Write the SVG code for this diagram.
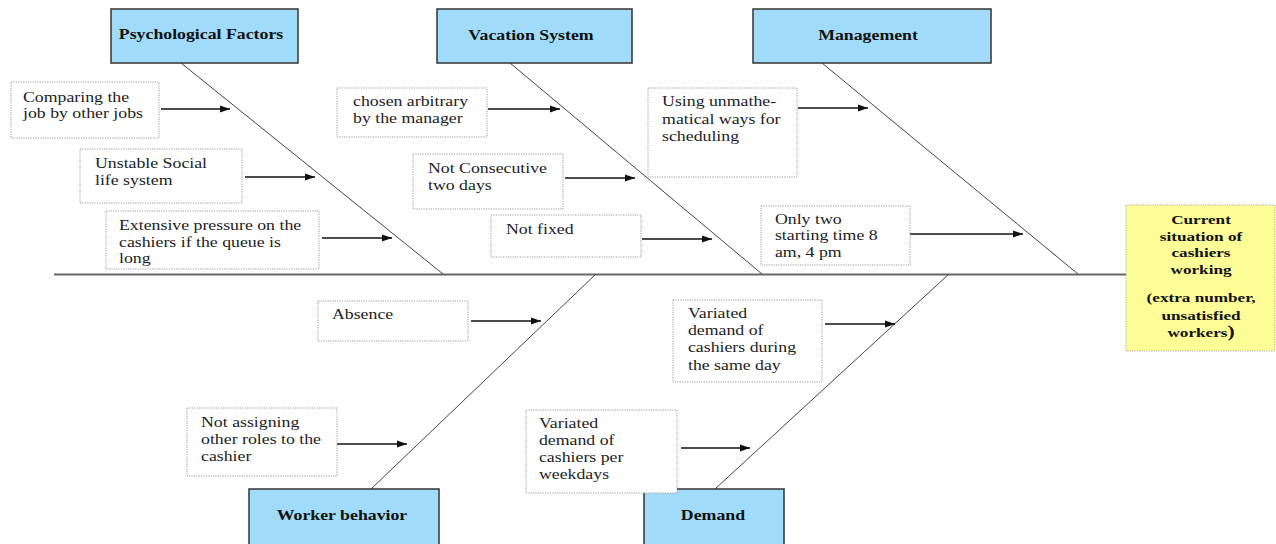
<svg xmlns="http://www.w3.org/2000/svg" width="1276" height="544" viewBox="0 0 1276 544">
<style>
.cat{fill:#a0dcf9;stroke:#333;stroke-width:1.5}
.cause{fill:#fff;stroke:#9a9a9a;stroke-width:1;stroke-dasharray:1.2 1.2}
.eff{fill:#fdfd98;stroke:#aaa;stroke-width:1;stroke-dasharray:1.2 1.2}
.bone{stroke:#444;stroke-width:1;fill:none}
.spine{stroke:#666;stroke-width:2;fill:none}
.arr{stroke:#111;stroke-width:1.6;fill:none;marker-end:url(#ah)}
.t{font-family:"Liberation Serif","Times New Roman",serif;font-size:14px;fill:#222}
.tb{font-family:"Liberation Serif","Times New Roman",serif;font-size:14px;font-weight:bold;fill:#111;text-anchor:middle}
.ty{font-family:"Liberation Serif","Times New Roman",serif;font-size:13.5px;font-weight:bold;fill:#111;text-anchor:middle}
</style>
<defs>
<marker id="ah" markerUnits="userSpaceOnUse" markerWidth="11" markerHeight="8" refX="10" refY="4" orient="auto">
<path d="M0,0.5 L10,4 L0,7.5 z" fill="#111"/>
</marker>
<clipPath id="clipC3"><rect x="106" y="211" width="213" height="55"/></clipPath>
<clipPath id="clipC8"><rect x="761" y="206" width="149" height="54"/></clipPath>
</defs>
<rect width="1276" height="544" fill="#fff"/>

<g id="connectors">
<line class="spine" x1="54" y1="274.5" x2="1126" y2="274.5"/>
<line class="bone" x1="181" y1="63" x2="443" y2="274"/>
<line class="bone" x1="510" y1="63" x2="762" y2="274"/>
<line class="bone" x1="822" y1="63" x2="1078" y2="274"/>
<line class="bone" x1="371" y1="489" x2="596" y2="274"/>
<line class="bone" x1="715" y1="489" x2="949" y2="274"/>
<line class="arr" x1="161" y1="109" x2="230" y2="109"/>
<line class="arr" x1="245" y1="177" x2="315" y2="177"/>
<line class="arr" x1="322" y1="238" x2="392" y2="238"/>
<line class="arr" x1="488" y1="109" x2="560" y2="109"/>
<line class="arr" x1="565" y1="178" x2="635" y2="178"/>
<line class="arr" x1="642" y1="239" x2="712" y2="239"/>
<line class="arr" x1="798" y1="108" x2="868" y2="108"/>
<line class="arr" x1="909" y1="234" x2="1023" y2="234"/>
<line class="arr" x1="471" y1="321" x2="541" y2="321"/>
<line class="arr" x1="337" y1="444" x2="407" y2="444"/>
<line class="arr" x1="825" y1="324" x2="895" y2="324"/>
<line class="arr" x1="681" y1="448" x2="750" y2="448"/>
</g>

<g id="cat-psychological">
<rect class="cat" x="111" y="9" width="187" height="54"/>
<g transform="scale(1.27 1)"><text class="tb" x="158.3" y="39">Psychological Factors</text></g>
</g>
<g id="cat-vacation">
<rect class="cat" x="437" y="9" width="195" height="54"/>
<g transform="scale(1.27 1)"><text class="tb" x="418.1" y="40">Vacation System</text></g>
</g>
<g id="cat-management">
<rect class="cat" x="753" y="9" width="238" height="54"/>
<g transform="scale(1.27 1)"><text class="tb" x="683.5" y="40">Management</text></g>
</g>
<g id="cat-worker">
<rect class="cat" x="249" y="489" width="190" height="60"/>
<g transform="scale(1.27 1)"><text class="tb" x="269.3" y="520">Worker behavior</text></g>
</g>
<g id="cat-demand">
<rect class="cat" x="644" y="489" width="140" height="60"/>
<g transform="scale(1.27 1)"><text class="tb" x="561.4" y="520">Demand</text></g>
</g>

<g id="cause-comparing">
<rect class="cause" x="11" y="82" width="148" height="56"/>
<g transform="scale(1.27 1)"><text class="t"><tspan x="18.1" y="102">Comparing the</tspan><tspan x="18.1" y="118.5">job by other jobs</tspan></text></g>
</g>
<g id="cause-unstable">
<rect class="cause" x="80" y="149" width="162" height="54"/>
<g transform="scale(1.27 1)"><text class="t"><tspan x="74.8" y="168.5">Unstable Social</tspan><tspan x="74.8" y="185.5">life system</tspan></text></g>
</g>
<g id="cause-extensive">
<rect class="cause" x="106" y="211" width="213" height="58"/>
<g clip-path="url(#clipC3)"><g transform="scale(1.27 1)"><text class="t"><tspan x="93.7" y="230.5">Extensive pressure on the</tspan><tspan x="93.7" y="247">cashiers if the queue is</tspan><tspan x="93.7" y="263.5">long</tspan></text></g></g>
</g>
<g id="cause-chosen">
<rect class="cause" x="337" y="88" width="150" height="49"/>
<g transform="scale(1.27 1)"><text class="t"><tspan x="278" y="106.5">chosen arbitrary</tspan><tspan x="278" y="123">by the manager</tspan></text></g>
</g>
<g id="cause-consecutive">
<rect class="cause" x="413" y="154" width="150" height="55"/>
<g transform="scale(1.27 1)"><text class="t"><tspan x="337" y="173.5">Not Consecutive</tspan><tspan x="337" y="190">two days</tspan></text></g>
</g>
<g id="cause-notfixed">
<rect class="cause" x="491" y="215" width="150" height="42"/>
<g transform="scale(1.27 1)"><text class="t" x="398.4" y="234">Not fixed</text></g>
</g>
<g id="cause-unmath">
<rect class="cause" x="648" y="88" width="149" height="89"/>
<g transform="scale(1.27 1)"><text class="t"><tspan x="521.3" y="106.5">Using unmathe-</tspan><tspan x="521.3" y="124">matical ways for</tspan><tspan x="521.3" y="141">scheduling</tspan></text></g>
</g>
<g id="cause-onlytwo">
<rect class="cause" x="761" y="206" width="149" height="59"/>
<g clip-path="url(#clipC8)"><g transform="scale(1.27 1)"><text class="t"><tspan x="610.2" y="224">Only two</tspan><tspan x="610.2" y="240.5">starting time 8</tspan><tspan x="610.2" y="257.5">am, 4 pm</tspan></text></g></g>
</g>
<g id="cause-absence">
<rect class="cause" x="318" y="301" width="150" height="40"/>
<g transform="scale(1.27 1)"><text class="t" x="261.4" y="319.5">Absence</text></g>
</g>
<g id="cause-notassigning">
<rect class="cause" x="187" y="408" width="150" height="68"/>
<g transform="scale(1.27 1)"><text class="t"><tspan x="158.3" y="427.5">Not assigning</tspan><tspan x="158.3" y="444">other roles to the</tspan><tspan x="158.3" y="461">cashier</tspan></text></g>
</g>
<g id="cause-sameday">
<rect class="cause" x="673" y="300" width="149" height="82"/>
<g transform="scale(1.27 1)"><text class="t"><tspan x="541.7" y="318.5">Variated</tspan><tspan x="541.7" y="335.5">demand of</tspan><tspan x="541.7" y="352.5">cashiers during</tspan><tspan x="541.7" y="370">the same day</tspan></text></g>
</g>
<g id="cause-weekdays">
<rect class="cause" x="526" y="410" width="151" height="83"/>
<g transform="scale(1.27 1)"><text class="t"><tspan x="424.4" y="428.5">Variated</tspan><tspan x="424.4" y="445.5">demand of</tspan><tspan x="424.4" y="462.5">cashiers per</tspan><tspan x="424.4" y="479.5">weekdays</tspan></text></g>
</g>

<g id="effect">
<rect class="eff" x="1126" y="205" width="149" height="146"/>
<g transform="scale(1.27 1)"><text class="ty"><tspan x="945.7" y="224">Current</tspan><tspan x="945.7" y="241">situation of</tspan><tspan x="945.7" y="257.5">cashiers</tspan><tspan x="945.7" y="274">working</tspan><tspan x="945.7" y="302">(extra number,</tspan><tspan x="945.7" y="320">unsatisfied</tspan><tspan x="945.7" y="337.5">workers<tspan font-size="17px">)</tspan></tspan></text></g>
</g>
</svg>
